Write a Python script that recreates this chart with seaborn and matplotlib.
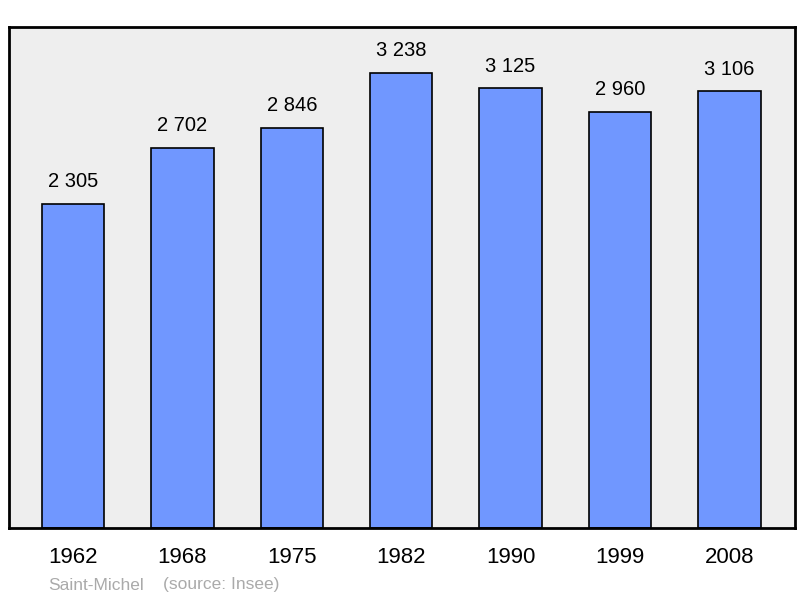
import pandas as pd
import matplotlib.pyplot as plt
import seaborn as sns

years = ["1962", "1968", "1975", "1982", "1990", "1999", "2008"]
population = [2305, 2702, 2846, 3238, 3125, 2960, 3106]
labels = ["2 305", "2 702", "2 846", "3 238", "3 125", "2 960", "3 106"]

df = pd.DataFrame({"year": years, "population": population})

sns.set_style("white")
plt.rcParams["font.family"] = ["Liberation Sans", "DejaVu Sans"]

fig = plt.figure(figsize=(8, 5.98), dpi=100)
ax = fig.add_axes([9 / 800, 70 / 598, 786 / 800, 501 / 598])
ax.set_facecolor("#eeeeee")

sns.barplot(
    data=df,
    x="year",
    y="population",
    color="#7097ff",
    saturation=1,
    edgecolor="black",
    linewidth=1.2,
    width=0.57,
    ax=ax,
)

# value labels above bars
for i, (v, txt) in enumerate(zip(population, labels)):
    ax.annotate(txt, (i, v), xytext=(0, 9), textcoords="offset points",
                ha="center", va="bottom", fontsize=14.5, color="black")

ax.set_xlim(-0.585, 6.6)
ax.set_ylim(0, 3238 * 1.1)
ax.set_yticks([])
ax.set_xlabel("")
ax.set_ylabel("")
ax.tick_params(axis="x", length=0, pad=14, labelsize=16, labelcolor="black")

for s in ax.spines.values():
    s.set_visible(True)
    s.set_color("black")
    s.set_linewidth(2)

fig.text(48 / 800, 1 - 585 / 598, "Saint-Michel", color="#aaaaaa",
         fontsize=12.5, va="center", ha="left")
fig.text(163 / 800, 1 - 585 / 598, "(source: Insee)", color="#aaaaaa",
         fontsize=12.5, va="center", ha="left")

fig.savefig("out.png", dpi=100)
plt.close(fig)
